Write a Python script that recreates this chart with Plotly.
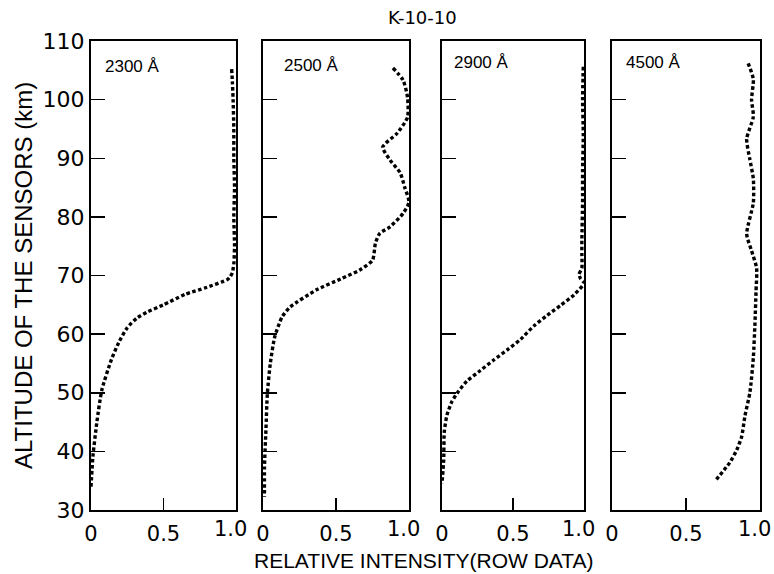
import plotly.graph_objects as go

# ---------------- data ----------------
panel_labels = ["2300 Å", "2500 Å", "2900 Å", "4500 Å"]

alt_2300 = [105.2, 103, 100, 95, 90, 85, 80, 75, 72, 70.5, 69.8, 69.3, 68.0, 66.8,
            65.0, 63.8, 62.8, 61.1, 58.5, 55.6, 50.5, 44.9, 39.1, 33.9]
int_2300 = [0.97, 0.975, 0.98, 0.985, 0.985, 0.99, 0.985, 0.99, 0.985, 0.975, 0.96,
            0.94, 0.80, 0.65, 0.50, 0.39, 0.32, 0.25, 0.19, 0.14, 0.075, 0.04, 0.013, 0.0]

alt_2500 = [105.4, 103.3, 100.4, 97.0, 94.3, 91.9, 89.7, 87.5, 85.1, 82.5, 80.6, 78.3,
            77.2, 75.5, 72.6, 70.9, 69.5, 67.6, 64.6, 62.9, 59.5, 55.0, 49.9, 43.6, 37.3, 32.2]
int_2500 = [0.89, 0.96, 0.99, 0.99, 0.92, 0.82, 0.87, 0.94, 0.97, 1.0, 0.96, 0.87,
            0.80, 0.77, 0.75, 0.66, 0.54, 0.37, 0.185, 0.13, 0.08, 0.05, 0.03, 0.02, 0.01, 0.01]

alt_2900 = [105.6, 100, 94, 88, 82.5, 76, 73.7, 71.3, 70.2, 69.5, 68.7, 66.7, 64.9,
            63.2, 61.4, 59.1, 57.3, 55.6, 53.8, 52.0, 50.3, 48.5, 46.2, 43.3, 38.6, 34.5]
int_2900 = [0.995, 0.99, 0.995, 0.99, 0.99, 0.985, 0.985, 0.985, 0.965, 0.975, 1.0,
            0.93, 0.835, 0.74, 0.647, 0.553, 0.459, 0.365, 0.27, 0.176, 0.118, 0.07,
            0.035, 0.016, 0.012, 0.0]

alt_4500 = [106.2, 103.5, 100, 97.1, 93.3, 90.0, 86.5, 82.4, 77.1, 74.2, 71.3, 67.2,
            61.9, 56.0, 50.1, 46.0, 42.5, 40.2, 38.1, 34.9]
int_4500 = [0.92, 0.955, 0.943, 0.955, 0.91, 0.93, 0.955, 0.955, 0.91, 0.943, 0.977,
            0.973, 0.966, 0.955, 0.932, 0.898, 0.876, 0.842, 0.796, 0.695]

x_tickvals = [0, 0.5, 1.0]
x_ticktext = ["0", "0.5", "1.0"]
y_tickvals = [30, 40, 50, 60, 70, 80, 90, 100, 110]
y_ticktext = ["30", "40", "50", "60", "70", "80", "90", "100", "110"]

title_text = "K-10-10"
x_title = "RELATIVE INTENSITY(ROW DATA)"
y_title = "ALTITUDE OF THE SENSORS (km)"

series = [(int_2300, alt_2300), (int_2500, alt_2500), (int_2900, alt_2900), (int_4500, alt_4500)]

# ---------------- layout (positions given in page pixels) ----------------
W, H = 774, 574


def px_x(p):
    return p / W


def px_y(p):
    return 1 - p / H


panel_px = [(91, 236), (263, 409), (442, 584), (612, 760)]
top_px, bot_px = 41, 510
label_pos = [(0.083, 105.6), (0.13, 105.8), (0.07, 106.4), (0.08, 106.3)]
FONT = "Liberation Sans, Arial, sans-serif"
TICKFONT = "DejaVu Sans, Liberation Sans, sans-serif"
XTICK_SIZE = 21

fig = go.Figure()
layout = dict(
    width=W, height=H,
    margin=dict(l=0, r=0, t=0, b=0),
    paper_bgcolor="white", plot_bgcolor="white",
    showlegend=False,
    font=dict(family=FONT, color="black"),
)
annotations = []
for i, ((xs, ys), (x0, x1)) in enumerate(zip(series, panel_px)):
    n = "" if i == 0 else str(i + 1)
    fig.add_trace(go.Scatter(
        x=xs, y=ys, mode="lines", xaxis="x" + n, yaxis="y" + n,
        line=dict(color="black", width=3.4, dash="3.5px,2.5px", shape="spline", smoothing=0.6),
        hoverinfo="skip",
    ))
    # ticks at all values; the label of the last one is drawn as an annotation
    # nudged slightly left (as in the original print)
    layout["xaxis" + n] = dict(
        domain=[px_x(x0), px_x(x1)], range=[0, 1], anchor="y" + n,
        tickvals=x_tickvals, ticktext=x_ticktext[:-1] + [""],
        ticks="inside", ticklen=12, tickwidth=1.5, tickcolor="black",
        showline=True, mirror=True, linewidth=2, linecolor="black",
        showgrid=False, zeroline=False, automargin=False,
        ticklabeloverflow="allow", ticklabelstandoff=4,
        tickfont=dict(size=XTICK_SIZE, family=TICKFONT, color="black"),
        fixedrange=True,
    )
    layout["yaxis" + n] = dict(
        domain=[px_y(bot_px), px_y(top_px)], range=[30, 110], anchor="x" + n,
        tickvals=y_tickvals, ticktext=y_ticktext, showticklabels=(i == 0),
        ticks="inside", ticklen=14, tickwidth=1.5, tickcolor="black",
        showline=True, mirror=True, linewidth=2, linecolor="black",
        showgrid=False, zeroline=False, automargin=False,
        ticklabeloverflow="allow",
        tickfont=dict(size=22, family=TICKFONT, color="black"),
        fixedrange=True,
    )
    annotations.append(dict(
        text=x_ticktext[-1], x=x_tickvals[-1], y=y_tickvals[0],
        xref="x" + n, yref="y" + n, xanchor="center", yanchor="top",
        xshift=-6, yshift=-5, showarrow=False,
        font=dict(size=XTICK_SIZE, family=TICKFONT, color="black"),
    ))
    lx, ly = label_pos[i]
    annotations.append(dict(
        text=panel_labels[i], x=lx, y=ly, xref="x" + n, yref="y" + n,
        xanchor="left", yanchor="middle", showarrow=False,
        font=dict(size=17, family=FONT, color="black"),
    ))

annotations += [
    dict(text=title_text, x=px_x(422), y=px_y(18), xref="paper", yref="paper",
         xanchor="center", yanchor="middle", showarrow=False,
         font=dict(size=18, family=TICKFONT, color="black")),
    dict(text=x_title, x=px_x(424), y=px_y(560), xref="paper", yref="paper",
         xanchor="center", yanchor="middle", showarrow=False,
         font=dict(size=21, family=FONT, color="black")),
    dict(text=y_title, x=px_x(23), y=px_y(276), xref="paper", yref="paper",
         xanchor="center", yanchor="middle", showarrow=False, textangle=-90,
         font=dict(size=24, family=FONT, color="black")),
]
layout["annotations"] = annotations
fig.update_layout(**layout)
# remove the default 8px page margin so the figure fills the 774x574 window exactly
fig.write_html(
    "out.html",
    config={"displayModeBar": False, "staticPlot": True},
    post_script="document.body.style.margin='0';document.body.style.overflow='hidden';",
)
